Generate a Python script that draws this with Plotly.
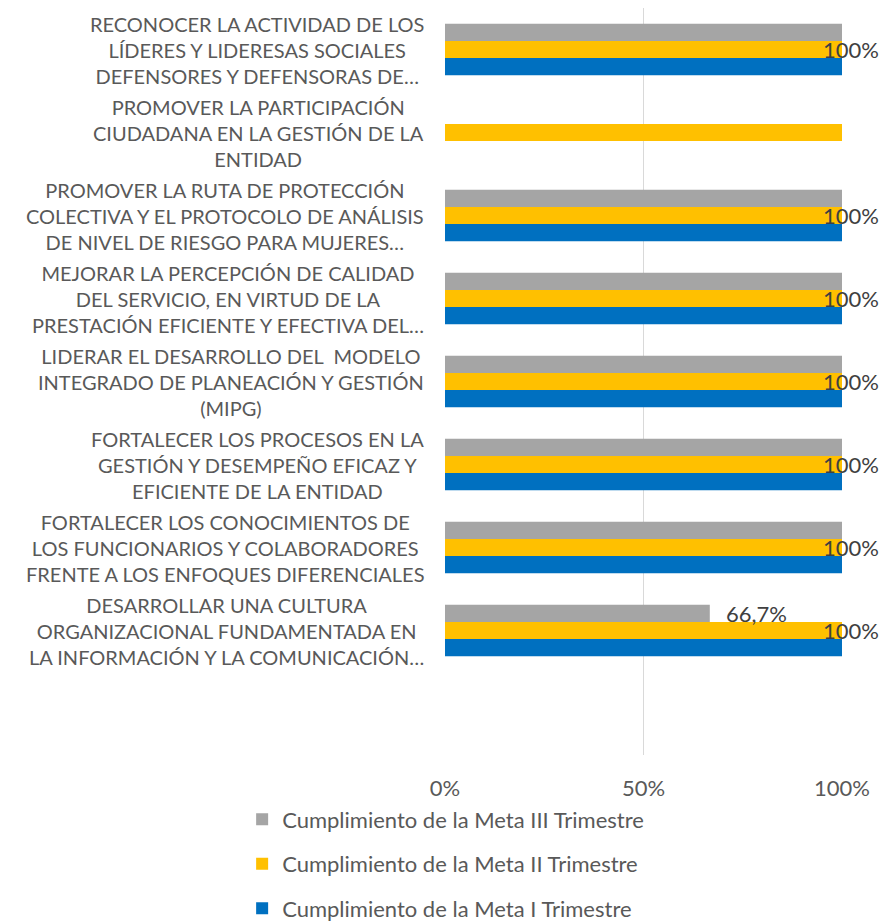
import plotly.graph_objects as go

categories = [
    "RECONOCER LA ACTIVIDAD DE LOS<br>LÍDERES Y LIDERESAS SOCIALES<br>DEFENSORES Y DEFENSORAS DE…",
    "PROMOVER LA PARTICIPACIÓN<br>CIUDADANA EN LA GESTIÓN DE LA<br>ENTIDAD",
    "PROMOVER LA RUTA DE PROTECCIÓN<br>COLECTIVA Y EL PROTOCOLO DE ANÁLISIS<br>DE NIVEL DE RIESGO PARA MUJERES…",
    "MEJORAR LA PERCEPCIÓN DE CALIDAD<br>DEL SERVICIO, EN VIRTUD DE LA<br>PRESTACIÓN EFICIENTE Y EFECTIVA DEL…",
    "LIDERAR EL DESARROLLO DEL  MODELO<br>INTEGRADO DE PLANEACIÓN Y GESTIÓN<br>(MIPG)",
    "FORTALECER LOS PROCESOS EN LA<br>GESTIÓN Y DESEMPEÑO EFICAZ Y<br>EFICIENTE DE LA ENTIDAD",
    "FORTALECER LOS CONOCIMIENTOS DE<br>LOS FUNCIONARIOS Y COLABORADORES<br>FRENTE A LOS ENFOQUES DIFERENCIALES",
    "DESARROLLAR UNA CULTURA<br>ORGANIZACIONAL FUNDAMENTADA EN<br>LA INFORMACIÓN Y LA COMUNICACIÓN…",
]
cat_ids = [f"c{i}" for i in range(len(categories))]

meta_iii = [1.0, None, 1.0, 1.0, 1.0, 1.0, 1.0, 0.667]
meta_ii = [1.0, 1.0, 1.0, 1.0, 1.0, 1.0, 1.0, 1.0]
meta_i = [1.0, None, 1.0, 1.0, 1.0, 1.0, 1.0, 1.0]

label_iii = ["", "", "", "", "", "", "", "66,7%"]

series = [
    ("Cumplimiento de la Meta III Trimestre", meta_iii, "#A5A5A5"),
    ("Cumplimiento de la Meta II Trimestre", meta_ii, "#FFC000"),
    ("Cumplimiento de la Meta I Trimestre", meta_i, "#0070C0"),
]

FONT = "Lato"
TXT = "#595959"
LBL = "#404040"

fig = go.Figure()
for i, (name, vals, color) in enumerate(series):
    fig.add_trace(go.Bar(
        y=cat_ids, x=vals, orientation="h", name=name,
        marker=dict(color=color, line=dict(width=0)),
        legendgroup=f"g{i}",
    ))

# 100% labels from series I (shown at the group's centre)
for cid, v in zip(cat_ids, meta_i):
    if v is not None:
        fig.add_annotation(x=v, y=cid, xref="x", yref="y", text=f"{v:.0%}",
                           showarrow=False, xanchor="center", xshift=9,
                           font=dict(family=FONT, size=22, color=LBL))

# series III labels (outside end of grey bar)
for cid, v, t in zip(cat_ids, meta_iii, label_iii):
    if t and v is not None:
        fig.add_annotation(x=v, y=cid, xref="x", yref="y", text=t,
                           showarrow=False, xanchor="left", xshift=14, yshift=17,
                           font=dict(family=FONT, size=22, color=LBL))

# category labels (centred multi-line)
for cid, lab in zip(cat_ids, categories):
    fig.add_annotation(x=0, y=cid, xref="paper", yref="y", text=lab,
                       showarrow=False, xanchor="right", align="center",
                       xshift=-19, font=dict(family=FONT, size=20, color=TXT))

fig.update_layout(
    width=884, height=913,
    margin=dict(l=437, r=50, t=0, b=166, autoexpand=False),
    plot_bgcolor="white", paper_bgcolor="white",
    barmode="group", bargap=0.38, bargroupgap=0,
    font=dict(family=FONT, size=22, color=TXT),
    showlegend=True,
    legend=dict(orientation="v", x=-0.511, xanchor="left", y=-0.058, yanchor="top",
                font=dict(family=FONT, size=22, color=TXT), tracegroupgap=13,
                itemwidth=30),
    xaxis=dict(range=[0, 1], tickvals=[0, 0.5, 1], ticktext=["0%", "50%", "100%"],
               showgrid=True, gridcolor="#D9D9D9", gridwidth=1, zeroline=False,
               showline=False, ticks="", ticklabelstandoff=18,
               tickfont=dict(family=FONT, size=22, color=TXT)),
    yaxis=dict(categoryorder="array", categoryarray=cat_ids, range=[8.5, -0.5],
               showticklabels=False, showgrid=False, zeroline=False, showline=False,
               ticks=""),
)

fig.write_html("out.html")
